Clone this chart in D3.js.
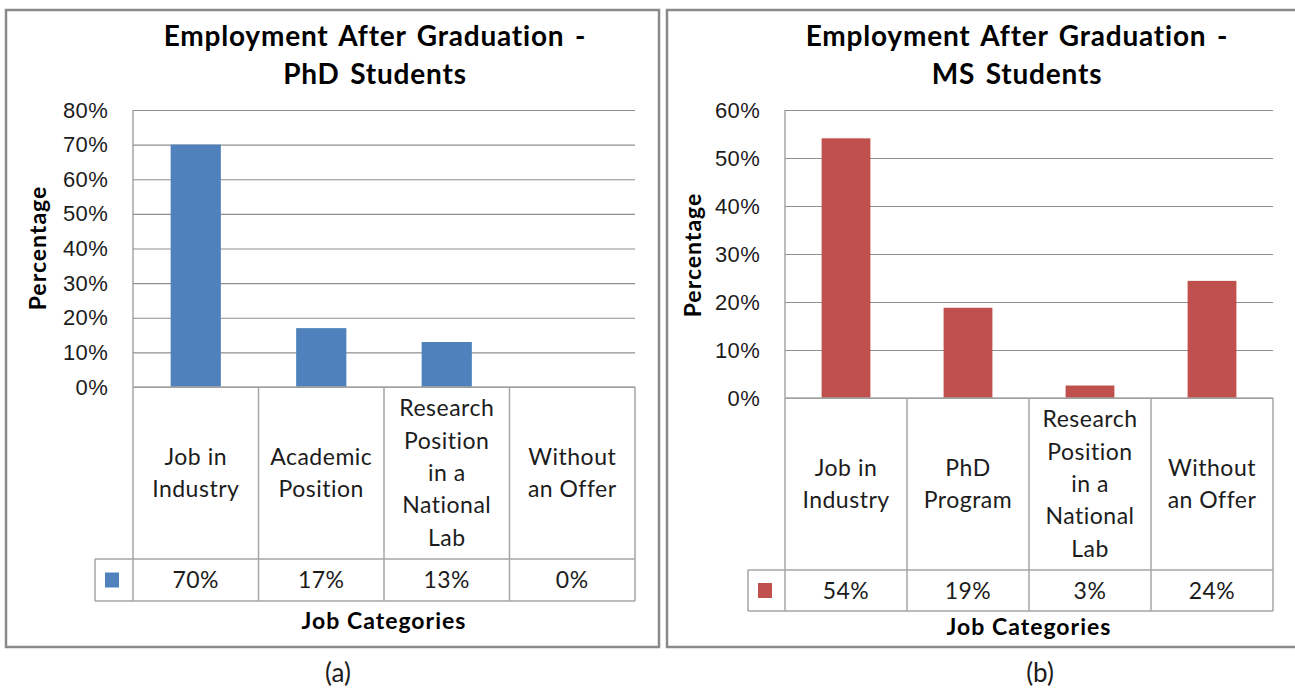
<!DOCTYPE html>
<meta charset="utf-8">
<style>
body {
    margin: 0px;
    background: #fff;
    font-family: Lato, "Open Sans", sans-serif;
}
text {
    fill: #1c1c1c;
}
.title {
    font-size: 28px;
    font-weight: 700;
    letter-spacing: 0.8px;
    word-spacing: 3px;
    fill: #000;
}
.axis-title {
    font-size: 23px;
    font-weight: 700;
    letter-spacing: 1px;
    fill: #000;
}
.tick text {
    font-size: 22px;
    letter-spacing: 0.3px;
}
.cell-text {
    font-size: 23px;
    letter-spacing: 0.5px;
}
.caption {
    font-size: 26px;
}
</style>
<body>
<script src="https://d3js.org/d3.v7.min.js"></script>
<script>
var width = 1295,
    height = 690

// PhD panel
var phdTitle = ["Employment After Graduation -", "PhD Students"]
var phdCategories = ["Job in\nIndustry", "Academic\nPosition", "Research\nPosition\nin a\nNational\nLab", "Without\nan Offer"]
var phdValues = [0.70, 0.17, 0.13, 0]
var phdTicks = [0, 0.1, 0.2, 0.3, 0.4, 0.5, 0.6, 0.7, 0.8]

// MS panel
var msTitle = ["Employment After Graduation -", "MS Students"]
var msCategories = ["Job in\nIndustry", "PhD\nProgram", "Research\nPosition\nin a\nNational\nLab", "Without\nan Offer"]
var msValues = [0.541, 0.188, 0.026, 0.244]
var msTicks = [0, 0.1, 0.2, 0.3, 0.4, 0.5, 0.6]

var pct = d3.format(".0%")

var svg = d3.select("body").append("svg")
    .attr("width", width)
    .attr("height", height)

drawPanel({
    box: [6, 10, 653, 637],
    x0: 133, x1: 635, top: 110, base: 387, mid: 559, bottom: 601, legendX: 95,
    titleX: 375, labelX: 38, labelY: 248, catY: 629,
    caption: "(a)", captionX: 338,
    title: phdTitle, cats: phdCategories, values: phdValues, ticks: phdTicks,
    color: "#4f81bd"
})

drawPanel({
    box: [667, 10, 640, 637],
    x0: 785, x1: 1273, top: 110, base: 398, mid: 570, bottom: 611, legendX: 748,
    titleX: 1017, labelX: 693, labelY: 255, catY: 635,
    caption: "(b)", captionX: 1040,
    title: msTitle, cats: msCategories, values: msValues, ticks: msTicks,
    color: "#c0504d"
})

function drawPanel(p) {
    var g = svg.append("g")

    // frame
    g.append("rect")
        .attr("x", p.box[0])
        .attr("y", p.box[1])
        .attr("width", p.box[2])
        .attr("height", p.box[3])
        .attr("fill", "none")
        .attr("stroke", "#8a8a8a")
        .attr("stroke-width", 2.5)

    // title, two lines
    g.selectAll(".title")
        .data(p.title)
        .enter().append("text")
        .attr("class", "title")
        .attr("x", p.titleX)
        .attr("y", function(d, i) { return 46 + i * 38 })
        .attr("text-anchor", "middle")
        .text(function(d) { return d })

    var x = d3.scaleBand()
        .domain(p.cats)
        .range([p.x0, p.x1])

    var y = d3.scaleLinear()
        .domain([0, d3.max(p.ticks)])
        .range([p.base, p.top])

    // gridlines + tick labels
    var axis = g.append("g")
        .attr("transform", "translate(" + p.x0 + ",0)")
        .call(d3.axisLeft(y)
            .tickValues(p.ticks)
            .tickFormat(pct)
            .tickSize(-(p.x1 - p.x0))
            .tickPadding(25))
    axis.select(".domain").remove()
    axis.selectAll(".tick line").attr("stroke", "#8f8f8f").attr("stroke-width", 1.2)
    axis.selectAll(".tick text")
        .attr("font-family", null)
        .attr("font-size", null)
        .attr("fill", "#1c1c1c")

    g.append("line")
        .attr("x1", p.x0).attr("x2", p.x0)
        .attr("y1", p.top).attr("y2", p.base)
        .attr("stroke", "#8f8f8f")
        .attr("stroke-width", 1.2)

    // bars
    g.selectAll(".bar")
        .data(p.values)
        .enter().append("rect")
        .attr("class", "bar")
        .attr("x", function(d, i) { return x(p.cats[i]) + x.bandwidth() * 0.3 })
        .attr("width", x.bandwidth() * 0.4)
        .attr("y", function(d) { return y(d) })
        .attr("height", function(d) { return p.base - y(d) })
        .attr("fill", p.color)

    // data table
    var tbl = g.append("g")
        .attr("stroke", "#a6a6a6")
        .attr("stroke-width", 1.5)

    tbl.append("line")
        .attr("x1", p.x0).attr("x2", p.x1)
        .attr("y1", p.base).attr("y2", p.base)
    tbl.selectAll(".h")
        .data([p.mid, p.bottom])
        .enter().append("line")
        .attr("x1", p.legendX).attr("x2", p.x1)
        .attr("y1", function(d) { return d })
        .attr("y2", function(d) { return d })
    tbl.selectAll(".v")
        .data(p.cats.map(function(c) { return x(c) }).concat([p.x1]))
        .enter().append("line")
        .attr("x1", function(d) { return d })
        .attr("x2", function(d) { return d })
        .attr("y1", p.base).attr("y2", p.bottom)
    tbl.append("line")
        .attr("x1", p.legendX).attr("x2", p.legendX)
        .attr("y1", p.mid).attr("y2", p.bottom)

    // category labels
    var lh = 32.3
    p.cats.forEach(function(c) {
        var lines = c.split("\n")
        var cy = (p.base + p.mid) / 2 - (lines.length - 1) * lh / 2
        g.append("text")
            .attr("class", "cell-text")
            .attr("text-anchor", "middle")
            .selectAll("tspan")
            .data(lines)
            .enter().append("tspan")
            .attr("x", x(c) + x.bandwidth() / 2)
            .attr("y", function(d, i) { return cy + i * lh })
            .attr("dy", "0.35em")
            .text(function(d) { return d })
    })

    // values row
    g.selectAll(".val")
        .data(p.values)
        .enter().append("text")
        .attr("class", "cell-text")
        .attr("text-anchor", "middle")
        .attr("x", function(d, i) { return x(p.cats[i]) + x.bandwidth() / 2 })
        .attr("y", (p.mid + p.bottom) / 2)
        .attr("dy", "0.35em")
        .text(function(d) { return pct(d) })

    // legend key
    g.append("rect")
        .attr("x", p.legendX + 10)
        .attr("y", (p.mid + p.bottom) / 2 - 7.5)
        .attr("width", 14)
        .attr("height", 15)
        .attr("fill", p.color)

    // axis titles
    g.append("text")
        .attr("class", "axis-title")
        .attr("transform", "translate(" + p.labelX + "," + p.labelY + ") rotate(-90)")
        .attr("dy", "0.35em")
        .attr("text-anchor", "middle")
        .text("Percentage")

    g.append("text")
        .attr("class", "axis-title")
        .attr("x", (p.x0 + p.x1) / 2)
        .attr("y", p.catY)
        .attr("text-anchor", "middle")
        .text("Job Categories")

    // caption below the frame
    g.append("text")
        .attr("class", "caption")
        .attr("x", p.captionX)
        .attr("y", 682)
        .attr("text-anchor", "middle")
        .text(p.caption)
}
</script>
